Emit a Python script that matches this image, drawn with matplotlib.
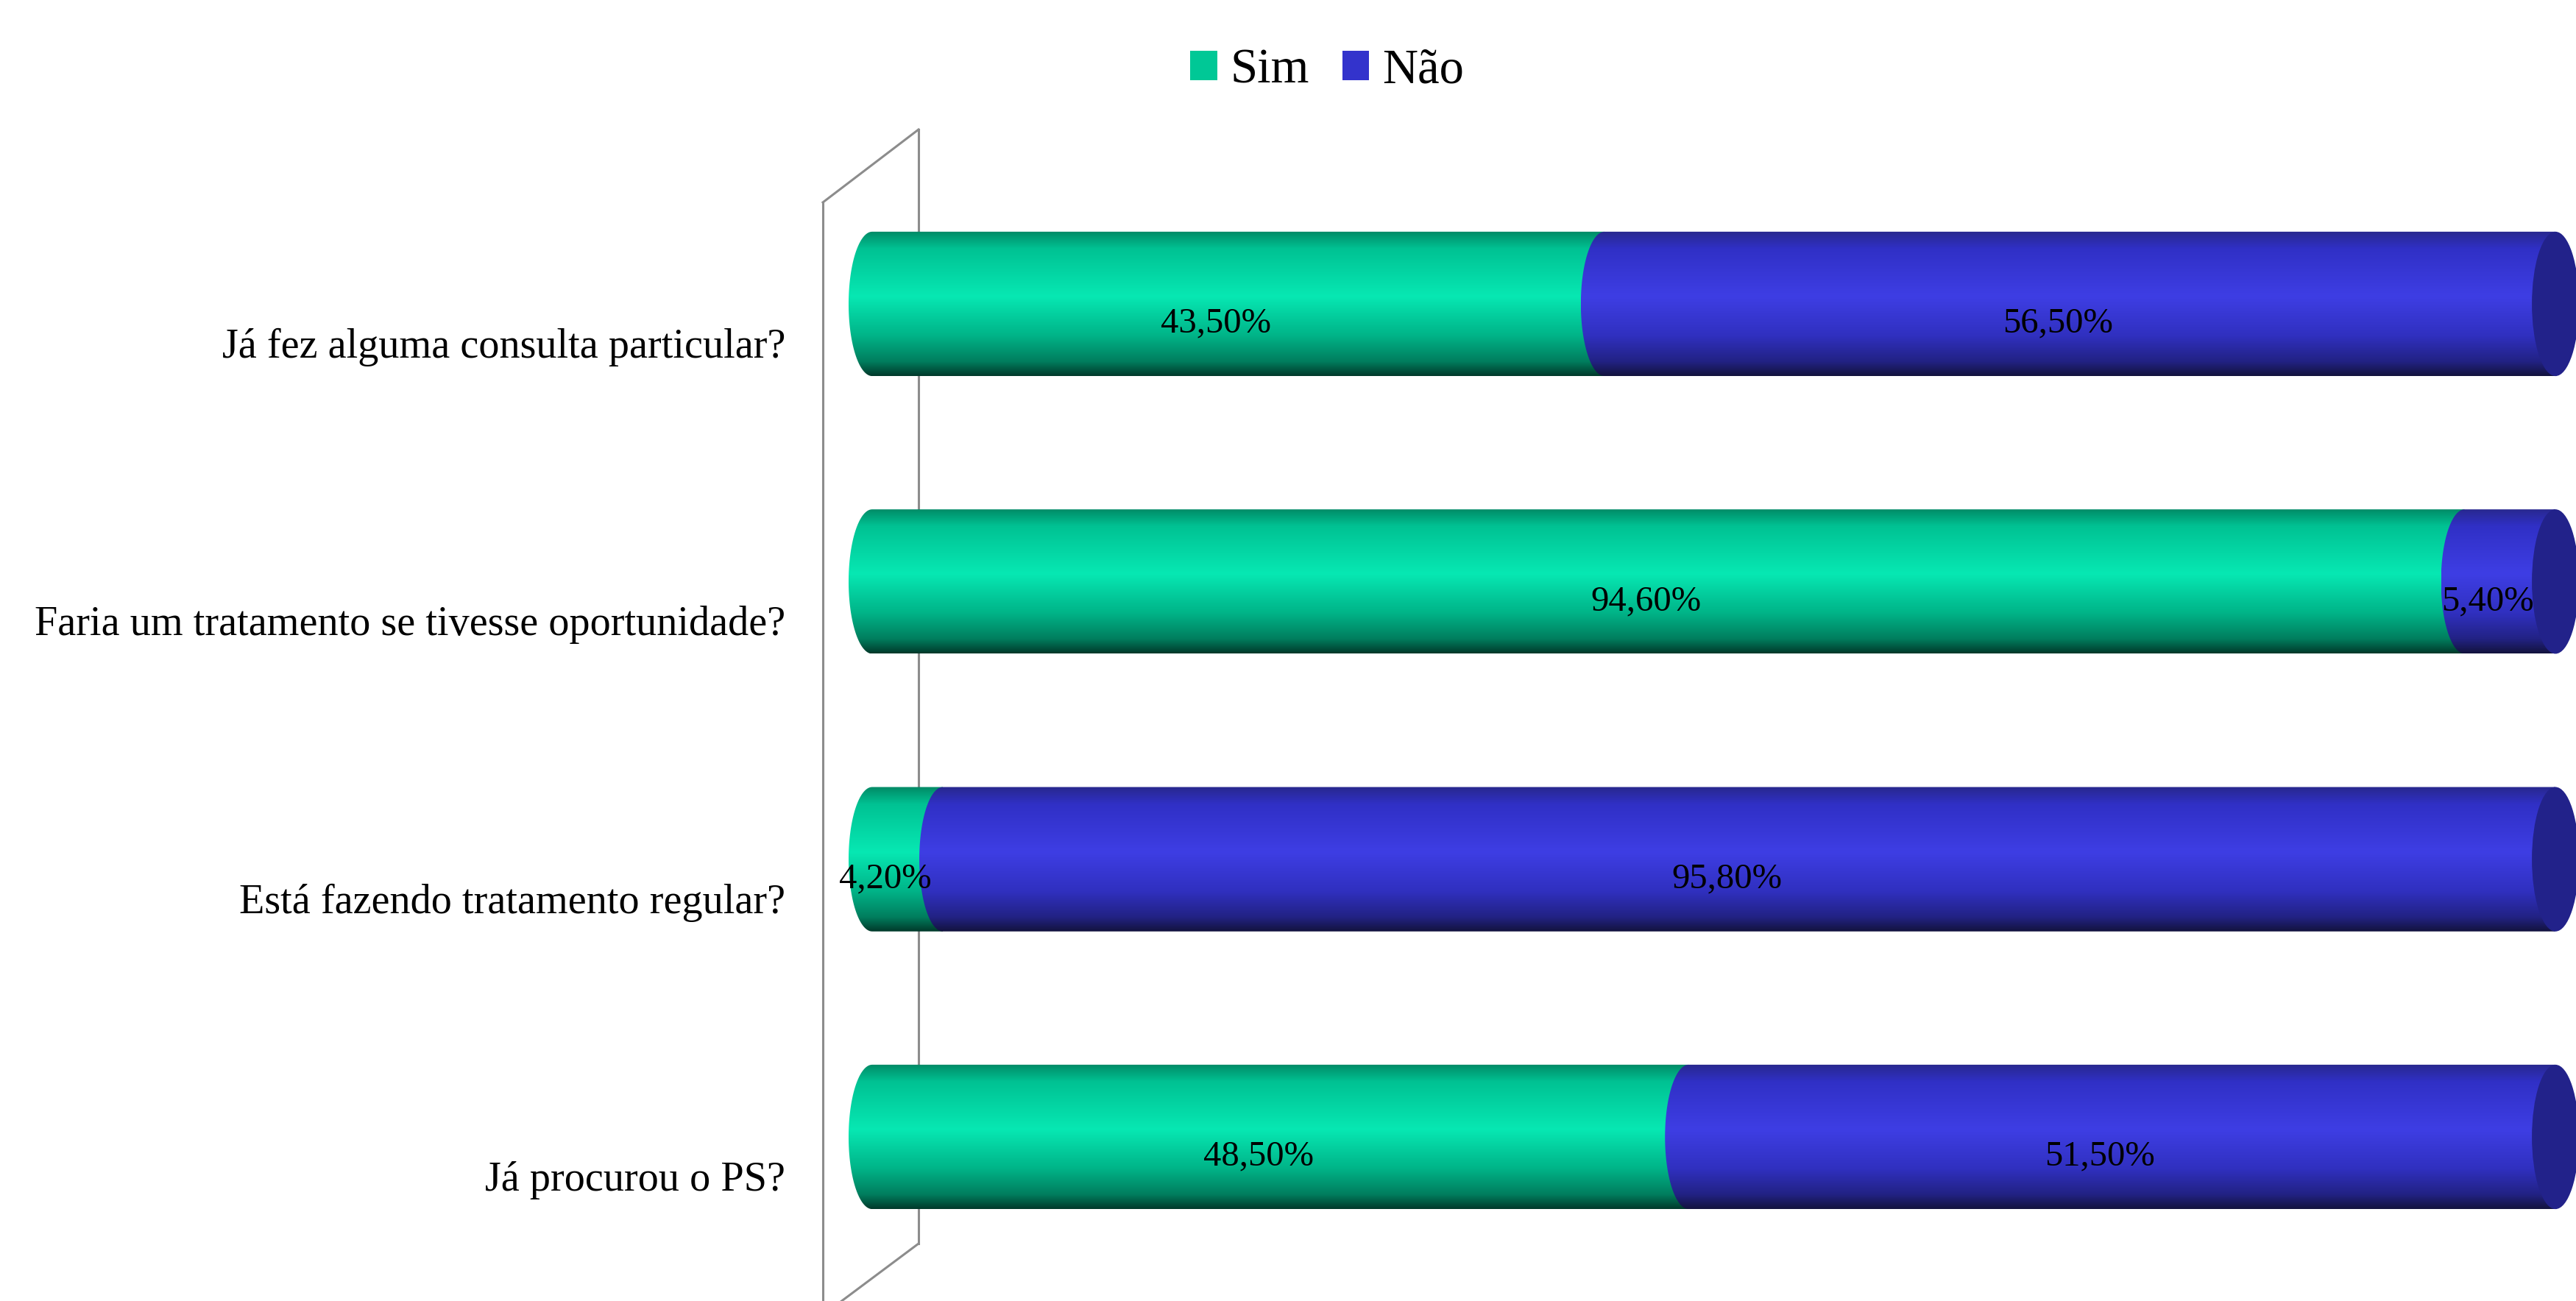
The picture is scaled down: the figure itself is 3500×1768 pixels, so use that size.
import matplotlib
matplotlib.use("Agg")
import matplotlib.pyplot as plt
import matplotlib.transforms as mtransforms
import numpy as np
from matplotlib.path import Path
from matplotlib.patches import PathPatch, Ellipse, Patch
from matplotlib.lines import Line2D
from matplotlib.colors import LinearSegmentedColormap

plt.rcParams['font.family'] = ['Liberation Serif', 'DejaVu Serif']

# data (bottom to top)
questions = ["Já procurou o PS?",
             "Está fazendo tratamento regular?",
             "Faria um tratamento se tivesse oportunidade?",
             "Já fez alguma consulta particular?"]
sim = [48.5, 4.2, 94.6, 43.5]
nao = [51.5, 95.8, 5.4, 56.5]
series_names = ["Sim", "Não"]
legend_colors = ["#00C896", "#3333CC"]

# vertical shading of the cylinders (top -> bottom)
green_cmap = LinearSegmentedColormap.from_list("g", [
    (0.0, "#008A66"), (0.12, "#00C293"), (0.45, "#07E8B3"),
    (0.72, "#00B488"), (0.9, "#007E5E"), (1.0, "#003A2B")])
blue_cmap = LinearSegmentedColormap.from_list("b", [
    (0.0, "#28288E"), (0.12, "#3030C6"), (0.45, "#3E3EE4"),
    (0.72, "#3030C0"), (0.9, "#222284"), (1.0, "#13133E")])
cap_color = "#22228A"

fig = plt.figure(figsize=(35, 17.68), dpi=100, facecolor="white")
ax = fig.add_axes([1118 / 3500, 0, 2382 / 3500, 1592 / 1768])

y = np.arange(len(questions))
bar_h = 0.52
a = 1.4  # half-width of the end ellipses, in data units

bars_sim = ax.barh(y, sim, height=bar_h, color="none")
bars_nao = ax.barh(y, nao, left=sim, height=bar_h, color="none")


def cylinder_path(x0, x1, y0, h):
    yc = y0 + h / 2
    th = np.linspace(np.pi / 2, 3 * np.pi / 2, 60)
    xs = x0 + a * np.cos(th)
    ys = yc + (h / 2) * np.sin(th)
    verts = list(zip(xs, ys)) + [(x1, y0), (x1, y0 + h), (xs[0], ys[0])]
    codes = [Path.MOVETO] + [Path.LINETO] * (len(verts) - 2) + [Path.CLOSEPOLY]
    return Path(verts, codes)


grad = np.linspace(0, 1, 256).reshape(-1, 1)
for bars, cmap in [(bars_sim, green_cmap), (bars_nao, blue_cmap)]:
    for r in bars:
        x0, w, y0, h = r.get_x(), r.get_width(), r.get_y(), r.get_height()
        patch = PathPatch(cylinder_path(x0, x0 + w, y0, h), facecolor="none",
                          edgecolor="none", transform=ax.transData)
        ax.add_patch(patch)
        im = ax.imshow(grad, cmap=cmap, aspect="auto", origin="upper",
                       extent=[x0 - a, x0 + w + a, y0, y0 + h],
                       interpolation="bilinear", zorder=2)
        im.set_clip_path(patch)

# right end caps
for r in bars_nao:
    x1 = r.get_x() + r.get_width()
    ax.add_patch(Ellipse((x1, r.get_y() + r.get_height() / 2), 2 * a,
                         r.get_height(), facecolor=cap_color,
                         edgecolor="none", zorder=3, clip_on=False))

# value labels
for bars, vals in [(bars_sim, sim), (bars_nao, nao)]:
    for r, v in zip(bars, vals):
        ax.annotate(f"{v:.2f}%".replace(".", ","),
                    (r.get_x() + r.get_width() / 2, r.get_y() + r.get_height() / 2),
                    xytext=(-21.6, -19.4), textcoords="offset points",
                    ha="center", va="center", fontsize=35, color="black",
                    zorder=5)

ax.set_xlim(-2.93, 101.22)
ax.set_ylim(-0.591, 3.628)
ax.set_xticks([])
ax.set_yticks(y)
ax.set_yticklabels(questions, fontsize=40.5)
ax.tick_params(axis="y", length=0, pad=36.7)
offset = mtransforms.ScaledTranslation(0, -38 / 72, fig.dpi_scale_trans)
for lab in ax.get_yticklabels():
    lab.set_transform(lab.get_transform() + offset)
for s in ax.spines.values():
    s.set_visible(False)

# 3D side wall outline
wall = dict(color="#8C8C8C", lw=2.2, transform=ax.transAxes, clip_on=False, zorder=1)
wx = 130 / 2382
ax.add_line(Line2D([0, 0], [0.9378, -0.05], **wall))
ax.add_line(Line2D([0, wx], [0.9378, 1.0], **wall))
ax.add_line(Line2D([wx, wx], [1.0, 0.049], **wall))
ax.add_line(Line2D([wx, 0], [0.049, -0.012], **wall))

handles = [Patch(facecolor=c, edgecolor="none") for c in legend_colors]
fig.legend(handles, series_names, loc="center",
           bbox_to_anchor=(1803 / 3500, 1 - 96 / 1768), ncol=2, frameon=False,
           fontsize=48, handlelength=0.55, handleheight=0.55,
           handletextpad=0.27, columnspacing=0.67)

fig.savefig("out.png", dpi=100, facecolor="white")
